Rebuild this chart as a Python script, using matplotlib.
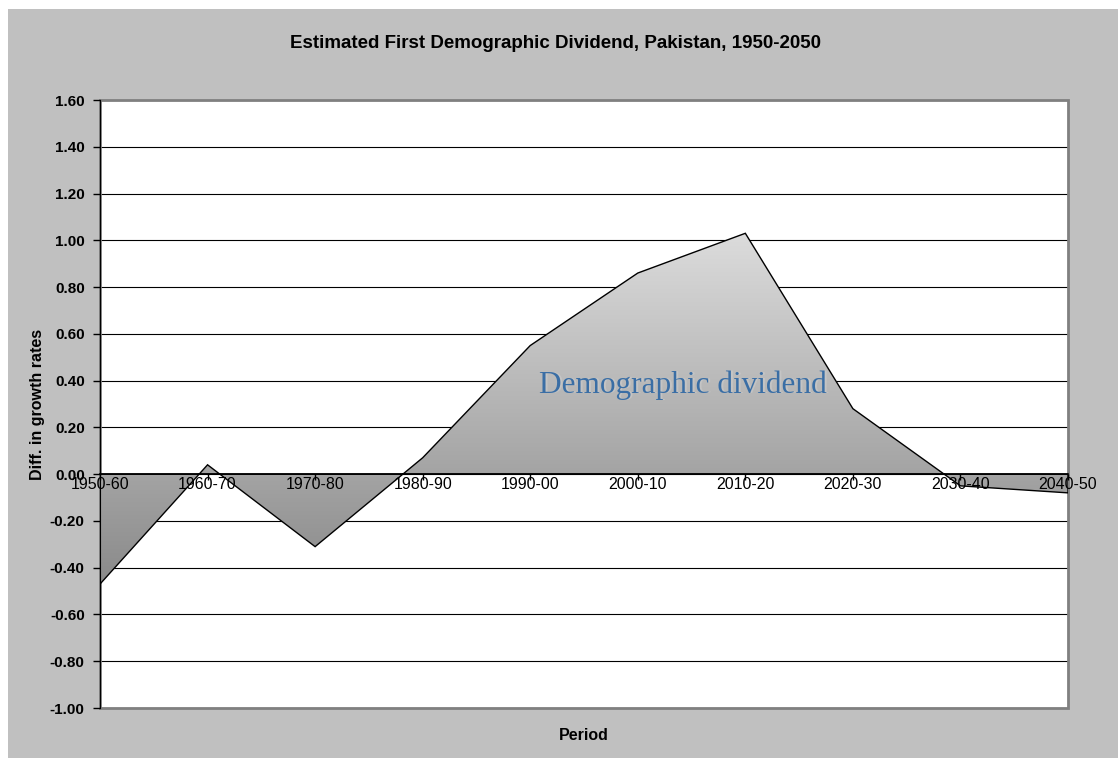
import numpy as np
import matplotlib
matplotlib.use("Agg")
import matplotlib.pyplot as plt
from matplotlib.patches import Polygon, Rectangle
from matplotlib.colors import LinearSegmentedColormap

# Estimated first demographic dividend (difference in growth rates)
periods = ["1950-60", "1960-70", "1970-80", "1980-90", "1990-00",
           "2000-10", "2010-20", "2020-30", "2030-40", "2040-50"]
dividend = [-0.47, 0.04, -0.31, 0.07, 0.55, 0.86, 1.03, 0.28, -0.05, -0.08]
y_ticks = [-1.0, -0.8, -0.6, -0.4, -0.2, 0.0, 0.2, 0.4, 0.6, 0.8, 1.0, 1.2, 1.4, 1.6]

plt.rcParams["font.family"] = ["Liberation Sans", "DejaVu Sans"]

fig = plt.figure(figsize=(11.18, 7.58), dpi=100, facecolor="white")
# grey chart area
fig.patches.append(Rectangle((8 / 1118, 0), 1110 / 1118, 749 / 758,
                             transform=fig.transFigure, facecolor="#c0c0c0",
                             edgecolor="none", zorder=-10))

ax = fig.add_axes([100 / 1118, 1 - 708 / 758, 968 / 1118, 608 / 758])
ax.set_facecolor("white")

x = np.arange(len(periods))
y = np.array(dividend)

# horizontal gridlines, kept behind the area
for v in y_ticks:
    ax.axhline(v, color="black", linewidth=0.8, zorder=1)

# area between the series and zero, filled with a vertical gradient
verts = [(x[0], 0)] + list(zip(x, y)) + [(x[-1], 0)]
area = Polygon(verts, closed=True, facecolor="none", edgecolor="black",
               linewidth=1.0, zorder=4)
ax.add_patch(area)
cmap = LinearSegmentedColormap.from_list("area", ["#8a8a8a", "#dcdcdc"])
grad = np.linspace(0, 1, 256).reshape(-1, 1)
im = ax.imshow(grad, cmap=cmap, origin="lower", aspect="auto",
               extent=[x[0], x[-1], y.min(), y.max()],
               interpolation="bicubic", zorder=3)
im.set_clip_path(area)

ax.set_xlim(x[0], x[-1])
ax.set_ylim(-1.0, 1.6)

# plot-area border
ax.add_patch(Rectangle((0, 0), 1, 1, transform=ax.transAxes, fill=False,
                       edgecolor="#808080", linewidth=2.0, zorder=2, clip_on=False))

ax.set_yticks(y_ticks)
ax.set_yticklabels([f"{v:.2f}" for v in y_ticks], fontweight="bold", fontsize=11)

for side in ["top", "right"]:
    ax.spines[side].set_visible(False)
ax.spines["left"].set_color("black")
ax.spines["bottom"].set_position(("data", 0))
ax.spines["bottom"].set_color("black")
ax.spines["bottom"].set_linewidth(1.2)
for side in ["left", "bottom"]:
    ax.spines[side].set_zorder(5)

ax.set_xticks(x)
ax.set_xticklabels(periods, fontsize=11.5)
ax.tick_params(axis="x", direction="out", length=4, width=1, pad=-2)
ax.tick_params(axis="y", direction="out", length=5, width=1, pad=6)
ax.xaxis.set_zorder(8)
ax.yaxis.set_zorder(8)

ax.text(5.44, 0.38, "Demographic dividend", fontsize=22.5, color="#d0d0d0",
        alpha=0.5, family="Liberation Serif", ha="center", va="center", zorder=6)
ax.text(5.42, 0.38, "Demographic dividend", fontsize=22.5, color="#3a6ea5",
        family="Liberation Serif", ha="center", va="center", zorder=7)

fig.text(556 / 1118, 1 - 43 / 758,
         "Estimated First Demographic Dividend, Pakistan, 1950-2050",
         ha="center", va="center", fontsize=13.5, fontweight="bold")
fig.text(584 / 1118, 1 - 735 / 758, "Period", ha="center", va="center",
         fontsize=11.5, fontweight="bold")
fig.text(38 / 1118, 1 - 404 / 758, "Diff. in growth rates", ha="center",
         va="center", rotation=90, fontsize=11.5, fontweight="bold")

fig.savefig("out.png", dpi=100, facecolor=fig.get_facecolor())
